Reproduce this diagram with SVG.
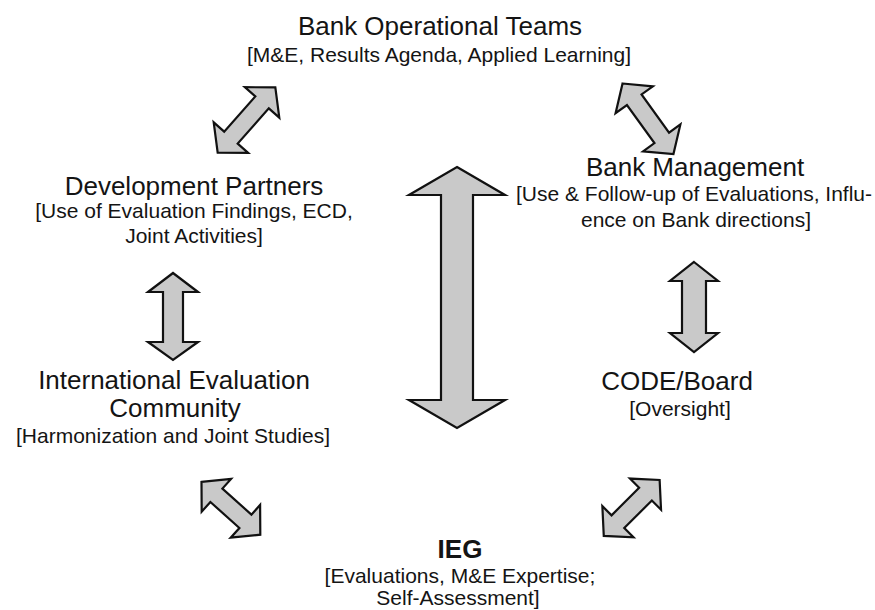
<svg xmlns="http://www.w3.org/2000/svg" width="875" height="610" viewBox="0 0 875 610">
  <style>
    .bg { fill: #ffffff; }
    .t { font-family: "Liberation Sans", Arial, sans-serif; font-size: 26px; fill: #141414; text-anchor: middle; }
    .s { font-family: "Liberation Sans", Arial, sans-serif; font-size: 21px; fill: #141414; text-anchor: middle; }
    .b { font-weight: bold; }
    .arrow { fill: #c9c9c9; stroke: #111111; stroke-width: 2.2; stroke-linejoin: miter; }
  </style>
  <defs>
    <!-- double-headed block arrows drawn along the x axis, centred on the origin -->
    <polygon id="diagA" points="-43.5,0 -23.5,-23 -23.5,-9 23.5,-9 23.5,-23 43.5,0 23.5,23 23.5,9 -23.5,9 -23.5,23"/>
    <polygon id="diagB" points="-39.5,0 -19.5,-22 -19.5,-9 19.5,-9 19.5,-22 39.5,0 19.5,22 19.5,9 -19.5,9 -19.5,22"/>
  </defs>
  <rect class="bg" x="0" y="0" width="875" height="610"/>

  <g id="connectors">
    <!-- central link IEG <-> Bank Operational Teams -->
    <polygon class="arrow" points="457,167 505,195 473,195 473,400 505,400 457,428 409,400 441,400 441,195 409,195"/>
    <!-- Development Partners <-> International Evaluation Community -->
    <polygon class="arrow" points="173,273 198,292 183,292 183,342 198,342 173,360 148,342 163,342 163,292 148,292"/>
    <!-- Bank Management <-> CODE/Board -->
    <polygon class="arrow" points="694,262 718,281 706,281 706,333 718,333 694,352 670,333 682,333 682,281 670,281"/>
    <!-- diagonal links -->
    <use href="#diagA" class="arrow" transform="translate(246.5,120) rotate(-48.5)"/>
    <use href="#diagA" class="arrow" transform="translate(648,118.8) rotate(54.2)"/>
    <use href="#diagB" class="arrow" transform="translate(230.9,508.3) rotate(41.9)"/>
    <use href="#diagB" class="arrow" transform="translate(631.7,507.9) rotate(-45)"/>
  </g>

  <g id="bank-operational-teams">
    <text class="t" x="440" y="35">Bank Operational Teams</text>
    <text class="s" x="439" y="62">[M&amp;E, Results Agenda, Applied Learning]</text>
  </g>

  <g id="development-partners">
    <text class="t" x="194" y="195">Development Partners</text>
    <text class="s" x="194" y="218">[Use of Evaluation Findings, ECD,</text>
    <text class="s" x="194" y="243">Joint Activities]</text>
  </g>

  <g id="bank-management">
    <text class="t" x="695" y="176">Bank Management</text>
    <text class="s" x="694" y="201">[Use &amp; Follow-up of Evaluations, Influ-</text>
    <text class="s" x="696" y="227">ence on Bank directions]</text>
  </g>

  <g id="international-evaluation-community">
    <text class="t" x="174" y="389">International Evaluation</text>
    <text class="t" x="175" y="417">Community</text>
    <text class="s" x="173" y="443">[Harmonization and Joint Studies]</text>
  </g>

  <g id="code-board">
    <text class="t" x="677" y="390">CODE/Board</text>
    <text class="s" x="680" y="416">[Oversight]</text>
  </g>

  <g id="ieg">
    <text class="t b" x="460" y="558">IEG</text>
    <text class="s" x="460" y="583">[Evaluations, M&amp;E Expertise;</text>
    <text class="s" x="458" y="605">Self-Assessment]</text>
  </g>
</svg>
